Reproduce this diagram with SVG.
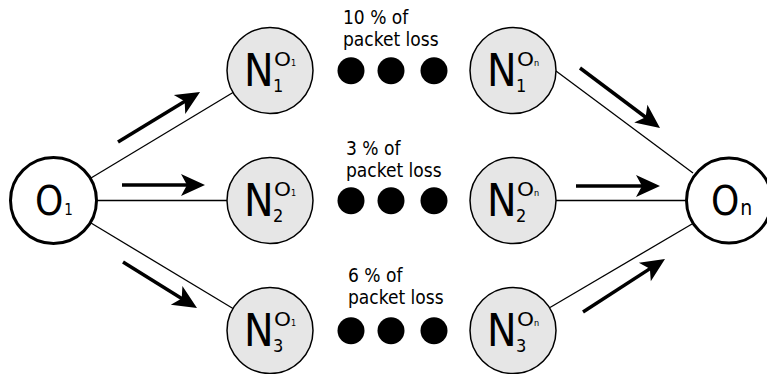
<svg xmlns="http://www.w3.org/2000/svg" width="767" height="374" viewBox="0 0 767 374">
<defs>
<style>
text{font-family:"DejaVu Sans Condensed","DejaVu Sans",sans-serif;font-stretch:condensed;fill:#000}
.end{fill:#fff;stroke:#000;stroke-width:3}
.n{fill:#e6e6e6;stroke:#000;stroke-width:1.5}
.big{font-size:44px}
.sub{font-size:18px}
.sup{font-size:19px}
.tiny{font-size:9px}
.oo{font-size:40px}
.lbl{font-size:19px}
.dot{fill:#000}
.ln{stroke:#000;stroke-width:1.3;fill:none}
.ar{stroke:#000;stroke-width:3.5;fill:none;marker-end:url(#head)}
</style>
<marker id="head" markerUnits="userSpaceOnUse" markerWidth="26" markerHeight="24" refX="14" refY="11" orient="auto" overflow="visible">
<path d="M0,0 L24,11 L0,22 L6,11 z" fill="#000"/>
</marker>
</defs>
<rect width="767" height="374" fill="#fff"/>
<g id="connectors">
<line class="ln" x1="91" y1="178" x2="233" y2="92.5"/>
<line class="ln" x1="96.5" y1="200.5" x2="227" y2="200.5"/>
<line class="ln" x1="91" y1="223" x2="233" y2="308.5"/>
<line class="ln" x1="556" y1="71" x2="693" y2="173"/>
<line class="ln" x1="556" y1="200.5" x2="686.5" y2="200.5"/>
<line class="ln" x1="550" y1="307.5" x2="692" y2="224"/>
<line class="ar" x1="118" y1="142" x2="191.5" y2="97.2"/>
<line class="ar" x1="122" y1="185" x2="195" y2="185"/>
<line class="ar" x1="123" y1="262" x2="188.5" y2="302.7"/>
<line class="ar" x1="580" y1="68" x2="652" y2="122"/>
<line class="ar" x1="576" y1="186" x2="650" y2="186"/>
<line class="ar" x1="583" y1="312" x2="656.6" y2="264.4"/>
</g>
<g id="O1">
<circle class="end" cx="53.5" cy="200.5" r="43"/>
<text class="oo" x="35" y="214.5">O<tspan font-size="15" dx="1">1</tspan></text>
</g>
<g id="On">
<circle class="end" cx="729" cy="200.5" r="42.5"/>
<text class="oo" x="711" y="215">O<tspan font-size="21" dx="1">n</tspan></text>
</g>
<g id="N1_O1">
<circle class="n" cx="270" cy="70.5" r="43"/>
<text class="big" x="244" y="85.5">N</text>
<text class="sub" x="273" y="91.5">1</text>
<text class="sup" x="274" y="65.5" textLength="17" lengthAdjust="spacingAndGlyphs">O</text>
<text class="tiny" x="291" y="65.5">1</text>
</g>
<g id="N2_O1">
<circle class="n" cx="270" cy="200.5" r="43"/>
<text class="big" x="244" y="215.5">N</text>
<text class="sub" x="273" y="221.5">2</text>
<text class="sup" x="274" y="195.5" textLength="17" lengthAdjust="spacingAndGlyphs">O</text>
<text class="tiny" x="291" y="195.5">1</text>
</g>
<g id="N3_O1">
<circle class="n" cx="270" cy="330.5" r="43"/>
<text class="big" x="244" y="345.5">N</text>
<text class="sub" x="273" y="351.5">3</text>
<text class="sup" x="274" y="325.5" textLength="17" lengthAdjust="spacingAndGlyphs">O</text>
<text class="tiny" x="291" y="325.5">1</text>
</g>
<g id="N1_On">
<circle class="n" cx="513" cy="70.5" r="43"/>
<text class="big" x="487" y="85.5">N</text>
<text class="sub" x="516" y="91.5">1</text>
<text class="sup" x="517" y="65.5" textLength="17" lengthAdjust="spacingAndGlyphs">O</text>
<text class="tiny" x="534" y="65.5">n</text>
</g>
<g id="N2_On">
<circle class="n" cx="513" cy="200.5" r="43"/>
<text class="big" x="487" y="215.5">N</text>
<text class="sub" x="516" y="221.5">2</text>
<text class="sup" x="517" y="195.5" textLength="17" lengthAdjust="spacingAndGlyphs">O</text>
<text class="tiny" x="534" y="195.5">n</text>
</g>
<g id="N3_On">
<circle class="n" cx="513" cy="330.5" r="43"/>
<text class="big" x="487" y="345.5">N</text>
<text class="sub" x="516" y="351.5">3</text>
<text class="sup" x="517" y="325.5" textLength="17" lengthAdjust="spacingAndGlyphs">O</text>
<text class="tiny" x="534" y="325.5">n</text>
</g>
<g id="dots1">
<circle class="dot" cx="351" cy="70.7" r="13.5"/>
<circle class="dot" cx="391" cy="70.7" r="13.5"/>
<circle class="dot" cx="434" cy="70.7" r="13.5"/>
</g>
<g id="dots2">
<circle class="dot" cx="351" cy="200.7" r="13.5"/>
<circle class="dot" cx="391" cy="200.7" r="13.5"/>
<circle class="dot" cx="434" cy="200.7" r="13.5"/>
</g>
<g id="dots3">
<circle class="dot" cx="351" cy="330.7" r="13.5"/>
<circle class="dot" cx="391" cy="330.7" r="13.5"/>
<circle class="dot" cx="434" cy="330.7" r="13.5"/>
</g>
<g id="label1">
<text class="lbl" x="343" y="24">10 % of</text>
<text class="lbl" x="343" y="46">packet loss</text>
</g>
<g id="label2">
<text class="lbl" x="346" y="155">3 % of</text>
<text class="lbl" x="346" y="177">packet loss</text>
</g>
<g id="label3">
<text class="lbl" x="348" y="282">6 % of</text>
<text class="lbl" x="348" y="304">packet loss</text>
</g>
</svg>
